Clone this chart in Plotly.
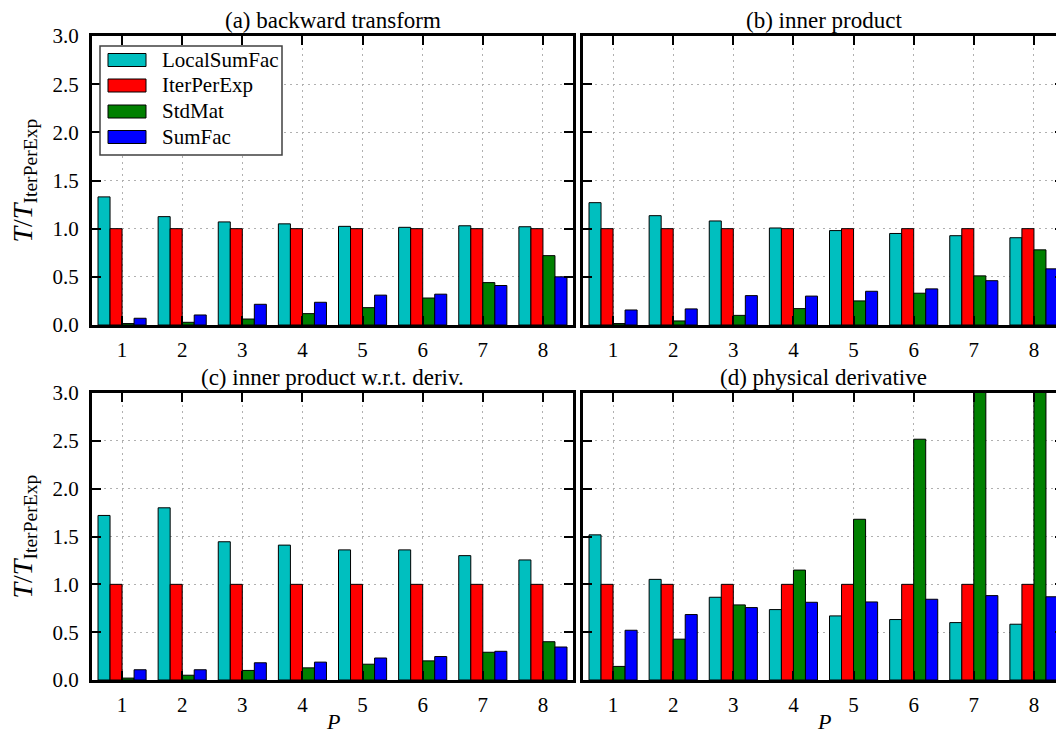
import plotly.graph_objects as go

# ---------------- data ----------------
P = [1, 2, 3, 4, 5, 6, 7, 8]
series_names = ["LocalSumFac", "IterPerExp", "StdMat", "SumFac"]
series_colors = ["#00BFBF", "#FF0000", "#008000", "#0000FF"]
panel_titles = ["(a) backward transform", "(b) inner product",
                "(c) inner product w.r.t. deriv.", "(d) physical derivative"]
y_ticks = [0.0, 0.5, 1.0, 1.5, 2.0, 2.5, 3.0]
y_ticklabels = ["0.0", "0.5", "1.0", "1.5", "2.0", "2.5", "3.0"]

# (a) backward transform
a_localsumfac = [1.33, 1.125, 1.07, 1.05, 1.024, 1.014, 1.03, 1.02]
a_iterperexp = [1.0, 1.0, 1.0, 1.0, 1.0, 1.0, 1.0, 1.0]
a_stdmat = [0.015, 0.028, 0.062, 0.118, 0.18, 0.28, 0.44, 0.72]
a_sumfac = [0.07, 0.104, 0.215, 0.236, 0.31, 0.32, 0.41, 0.50]

# (b) inner product
b_localsumfac = [1.27, 1.135, 1.08, 1.007, 0.98, 0.95, 0.927, 0.906]
b_iterperexp = [1.0, 1.0, 1.0, 1.0, 1.0, 1.0, 1.0, 1.0]
b_stdmat = [0.015, 0.042, 0.10, 0.17, 0.25, 0.33, 0.51, 0.78]
b_sumfac = [0.156, 0.167, 0.305, 0.30, 0.35, 0.375, 0.46, 0.583]

# (c) inner product w.r.t. deriv.
c_localsumfac = [1.72, 1.80, 1.445, 1.41, 1.36, 1.36, 1.30, 1.255]
c_iterperexp = [1.0, 1.0, 1.0, 1.0, 1.0, 1.0, 1.0, 1.0]
c_stdmat = [0.02, 0.05, 0.10, 0.127, 0.165, 0.20, 0.29, 0.40]
c_sumfac = [0.107, 0.107, 0.18, 0.187, 0.23, 0.245, 0.30, 0.345]

# (d) physical derivative (StdMat at P=7, 8 exceeds the axis limit)
d_localsumfac = [1.517, 1.052, 0.865, 0.736, 0.67, 0.632, 0.60, 0.583]
d_iterperexp = [1.0, 1.0, 1.0, 1.0, 1.0, 1.0, 1.0, 1.0]
d_stdmat = [0.142, 0.427, 0.785, 1.149, 1.68, 2.517, 3.7, 5.0]
d_sumfac = [0.52, 0.684, 0.757, 0.8125, 0.816, 0.844, 0.882, 0.87]

panels = [
    [a_localsumfac, a_iterperexp, a_stdmat, a_sumfac],
    [b_localsumfac, b_iterperexp, b_stdmat, b_sumfac],
    [c_localsumfac, c_iterperexp, c_stdmat, c_sumfac],
    [d_localsumfac, d_iterperexp, d_stdmat, d_sumfac],
]

# ---------------- layout helpers ----------------
# the page body has an 8 px margin, so the figure is placed at (8, 8)
OFF = 8
W, H = 1064 - OFF, 737 - OFF
FONT = "Liberation Serif"


def px(x):
    return (x - OFF) / W


def py(y):
    return 1 - (y - OFF) / H


# panel boxes in window pixels: (left, right, top, bottom)
boxes = [(92, 573, 36, 325), (583, 1064, 36, 325),
         (92, 573, 393, 680), (583, 1064, 393, 680)]

fig = go.Figure()

for i, vals in enumerate(panels):
    xa = "x" if i == 0 else f"x{i + 1}"
    ya = "y" if i == 0 else f"y{i + 1}"
    for name, color, v in zip(series_names, series_colors, vals):
        fig.add_trace(go.Bar(
            x=P, y=v, name=name, xaxis=xa, yaxis=ya,
            marker=dict(color=color, line=dict(color="#000000", width=1)),
            showlegend=False, offsetgroup=name,
        ))

layout = dict(
    width=W, height=H,
    margin=dict(l=0, r=0, t=0, b=0, autoexpand=False),
    paper_bgcolor="white", plot_bgcolor="white",
    barmode="group", bargap=0.2, bargroupgap=0.0,
    font=dict(family=FONT, size=20, color="#000000"),
    showlegend=False,
)

annotations = []
shapes = []

for i, (l, r, t, b) in enumerate(boxes):
    xk = "xaxis" if i == 0 else f"xaxis{i + 1}"
    yk = "yaxis" if i == 0 else f"yaxis{i + 1}"
    yref_anchor = "y" if i == 0 else f"y{i + 1}"
    xref_anchor = "x" if i == 0 else f"x{i + 1}"
    common = dict(
        showline=True, linecolor="#000000", linewidth=3, mirror="allticks",
        ticks="inside", ticklen=9, tickwidth=2, tickcolor="#000000",
        showgrid=True, gridcolor="#b0b0b0", gridwidth=1, griddash="2px,4px",
        zeroline=False, automargin=False,
        tickfont=dict(family=FONT, size=21, color="#000000"),
    )
    layout[xk] = dict(
        common, domain=[px(l), min(px(r), 1.0)], anchor=yref_anchor,
        range=[0.5, 8.5], tickmode="array", tickvals=P,
        ticktext=[str(p) for p in P], ticklabelstandoff=4,
    )
    layout[yk] = dict(
        common, domain=[py(b), py(t)], anchor=xref_anchor,
        range=[0, 3.0], tickmode="array", tickvals=y_ticks,
        ticktext=y_ticklabels, showticklabels=(i % 2 == 0),
        ticklabelstandoff=6,
    )
    cx = (l + r) / 2
    annotations.append(dict(
        text=panel_titles[i], x=px(cx), y=py(t - 16), xref="paper", yref="paper",
        xanchor="center", yanchor="middle", showarrow=False,
        font=dict(family=FONT, size=23, color="#000000"),
    ))
    if i >= 2:
        annotations.append(dict(
            text="<i>P</i>", x=px(cx), y=py(721), xref="paper", yref="paper",
            xanchor="center", yanchor="middle", showarrow=False,
            font=dict(family=FONT, size=22, color="#000000"),
        ))
    if i % 2 == 0:
        annotations.append(dict(
            text="<i>T</i>/<i>T</i><sub>IterPerExp</sub>", x=px(24),
            y=py((t + b) / 2), xref="paper", yref="paper",
            xanchor="center", yanchor="middle", showarrow=False, textangle=-90,
            font=dict(family=FONT, size=28, color="#000000"),
        ))

# legend drawn in panel (a)
shapes.append(dict(type="rect", xref="paper", yref="paper",
                   x0=px(100), x1=px(282), y0=py(155), y1=py(46),
                   line=dict(color="#404040", width=1.5), fillcolor="white",
                   layer="above"))
row_y = [60, 85.5, 111.5, 137]
for name, color, yy in zip(series_names, series_colors, row_y):
    shapes.append(dict(type="rect", xref="paper", yref="paper",
                       x0=px(108), x1=px(146), y0=py(yy + 6.5), y1=py(yy - 6.5),
                       line=dict(color="#000000", width=1), fillcolor=color,
                       layer="above"))
    annotations.append(dict(
        text=name, x=px(160), y=py(yy), xref="paper", yref="paper",
        xanchor="left", yanchor="middle", showarrow=False,
        font=dict(family=FONT, size=21, color="#000000"),
    ))

layout["annotations"] = annotations
layout["shapes"] = shapes
fig.update_layout(**layout)

fig.write_html("out.html")
